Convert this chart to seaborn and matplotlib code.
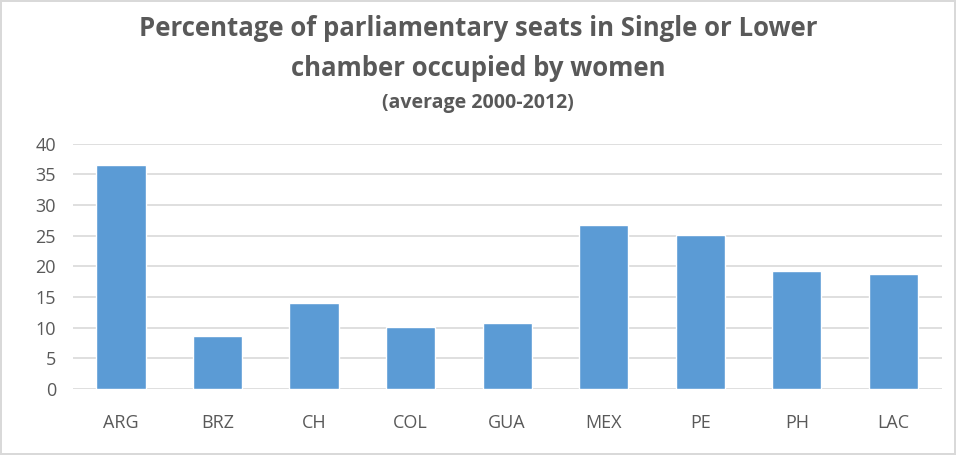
import seaborn as sns
import pandas as pd
import matplotlib.pyplot as plt

countries = ["ARG", "BRZ", "CH", "COL", "GUA", "MEX", "PE", "PH", "LAC"]
women_pct = [36.5, 8.6, 14.1, 10.1, 10.7, 26.7, 25.1, 19.3, 18.8]

df = pd.DataFrame({"country": countries, "pct": women_pct})

sns.set_theme(style="white")
plt.rcParams['font.family'] = ['Open Sans', 'DejaVu Sans']

fig = plt.figure(figsize=(9.56, 4.55), dpi=100)
fig.patch.set_edgecolor("#D9D9D9")
fig.patch.set_linewidth(1.5)
ax = fig.add_axes([0.076, 0.145, 0.909, 0.539])

sns.barplot(data=df, x="country", y="pct", color="#5B9BD5", saturation=1,
            width=0.51, ax=ax, zorder=3)

ax.set_ylim(0, 40)
ax.set_yticks(range(0, 41, 5))
ax.yaxis.grid(True, color="#D9D9D9", linewidth=1.2, zorder=0)
ax.set_axisbelow(True)
for s in ax.spines.values():
    s.set_visible(False)
ax.set_xlabel("")
ax.set_ylabel("")
ax.tick_params(axis="both", length=0, labelsize=13, colors="#595959")
ax.tick_params(axis="y", pad=12)
ax.tick_params(axis="x", pad=18)

grey = "#595959"
fig.text(0.5, 0.938, "Percentage of parliamentary seats in Single or Lower",
         ha="center", va="center", fontsize=18.5, fontweight="bold", color=grey)
fig.text(0.5, 0.850, "chamber occupied by women",
         ha="center", va="center", fontsize=18.5, fontweight="bold", color=grey)
fig.text(0.5, 0.773, "(average 2000-2012)",
         ha="center", va="center", fontsize=14, fontweight="bold", color=grey)

fig.savefig("out.png", dpi=100, edgecolor=fig.get_edgecolor())
